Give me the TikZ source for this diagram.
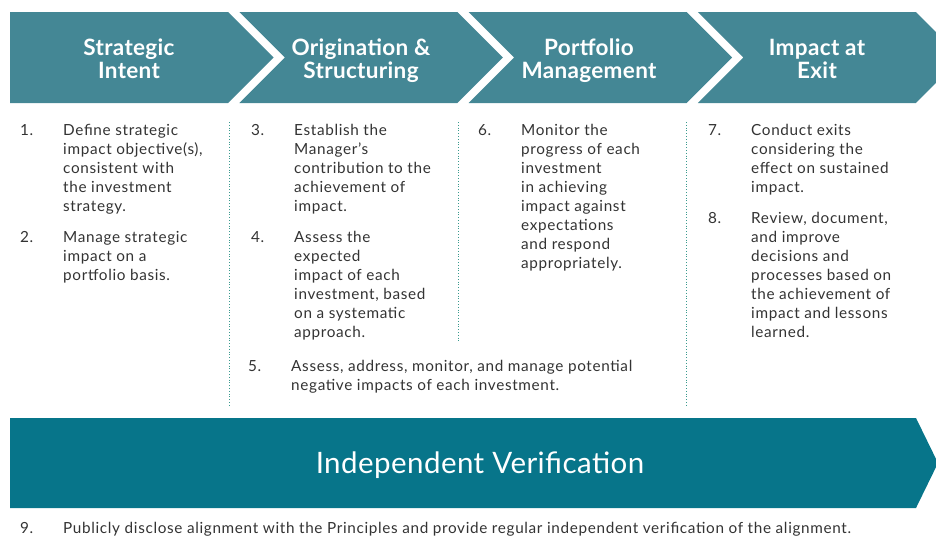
\documentclass[tikz,border=0pt]{standalone}
\usepackage{fontspec}
\setmainfont{Lato}
\newfontfamily\bodyfont{Lato}[LetterSpace=4.3]
\newfontfamily\headfont{Lato}[LetterSpace=1.5]
\definecolor{chev}{HTML}{448795}
\definecolor{verif}{HTML}{07758A}
\definecolor{txt}{HTML}{333333}
\definecolor{dots}{HTML}{3A9A8E}
\newcommand{\itm}[1]{\parbox[t]{420pt}{\raggedright #1}}
\newcommand{\hdr}[1]{\parbox[t]{220pt}{\centering #1}}
\tikzset{
  chevshape/.style={fill=chev, draw=none},
  verifshape/.style={fill=verif, draw=none},
  head/.style={anchor=base, inner sep=0pt, text=white, font=\headfont\bfseries\fontsize{22.5}{23.5}\selectfont},
  bigtitle/.style={anchor=base, inner sep=0pt, text=white, font=\headfont\fontsize{29.5}{32}\selectfont},
  num/.style={anchor=base west, inner sep=0pt, text=txt, font=\bodyfont\fontsize{15.3}{19}\selectfont},
  itemtext/.style={anchor=base west, inner sep=0pt, text=txt, font=\bodyfont\fontsize{15.3}{19}\selectfont},
  sepline/.style={draw=dots, dotted, line width=0.8pt},
}
\begin{document}
\begin{tikzpicture}[x=1pt,y=-1pt]
\useasboundingbox (0,0) rectangle (936,536);
\clip (0,0) rectangle (936,536);
% chevrons
\path[chevshape] (10,12) -- (228,12) -- (273.5,57.5) -- (228,103) -- (10,103) -- cycle;
\path[chevshape] (239.3,12) -- (457.3,12) -- (502.8,57.5) -- (457.3,103) -- (239.3,103) -- (284.8,57.5) -- cycle;
\path[chevshape] (468.6,12) -- (686.6,12) -- (732.1,57.5) -- (686.6,103) -- (468.6,103) -- (514.1,57.5) -- cycle;
\path[chevshape] (697.9,12) -- (915.9,12) -- (961.4,57.5) -- (915.9,103) -- (697.9,103) -- (743.4,57.5) -- cycle;
\node[head] (h1) at (129,55) {\hdr{Strategic\\Intent}};
\node[head] (h2) at (361,55) {\hdr{Origination \&\\Structuring}};
\node[head] (h3) at (589,55) {\hdr{Portfolio\\Management}};
\node[head] (h4) at (817,55) {\hdr{Impact at\\Exit}};
% separators
\coordinate (s1t) at (229,122); \coordinate (s1b) at (229,407);
\coordinate (s2t) at (458,122); \coordinate (s2b) at (458,343);
\coordinate (s3t) at (686,122); \coordinate (s3b) at (686,407);
\draw[sepline] (s1t) -- (s1b);
\draw[sepline] (s2t) -- (s2b);
\draw[sepline] (s3t) -- (s3b);
% column 1
\node[num] (n1) at (20,135.5) {1.};
\node[itemtext] (t1) at (63,135.5) {\itm{Define strategic\\impact objective(s),\\consistent with\\the investment\\strategy.}};
\node[num] (n2) at (20,242.5) {2.};
\node[itemtext] (t2) at (63,242.5) {\itm{Manage strategic\\impact on a\\portfolio basis.}};
% column 2
\node[num] (n3) at (251,135.5) {3.};
\node[itemtext] (t3) at (294,135.5) {\itm{Establish the\\Manager’s\\contribution to the\\achievement of\\impact.}};
\node[num] (n4) at (251,242.5) {4.};
\node[itemtext] (t4) at (294,242.5) {\itm{Assess the\\expected\\impact of each\\investment, based\\on a systematic\\approach.}};
\node[num] (n5) at (248,371.5) {5.};
\node[itemtext] (t5) at (291,371.5) {\itm{Assess, address, monitor, and manage potential\\negative impacts of each investment.}};
% column 3
\node[num] (n6) at (478,135.5) {6.};
\node[itemtext] (t6) at (521,135.5) {\itm{Monitor the\\progress of each\\investment\\in achieving\\impact against\\expectations\\and respond\\appropriately.}};
% column 4
\node[num] (n7) at (708,135.5) {7.};
\node[itemtext] (t7) at (751,135.5) {\itm{Conduct exits\\considering the\\effect on sustained\\impact.}};
\node[num] (n8) at (708,223.5) {8.};
\node[itemtext] (t8) at (751,223.5) {\itm{Review, document,\\and improve\\decisions and\\processes based on\\the achievement of\\impact and lessons\\learned.}};
% verification bar
\path[verifshape] (10,418) -- (916,418) -- (938,463) -- (916,508) -- (10,508) -- cycle;
\node[bigtitle] (iv) at (480,473.5) {Independent Verification};
\node[num] (n9) at (20,533.5) {9.};
\node[itemtext] (t9) at (63,533.5) {Publicly disclose alignment with the Principles and provide regular independent verification of the alignment.};
\end{tikzpicture}
\end{document}
